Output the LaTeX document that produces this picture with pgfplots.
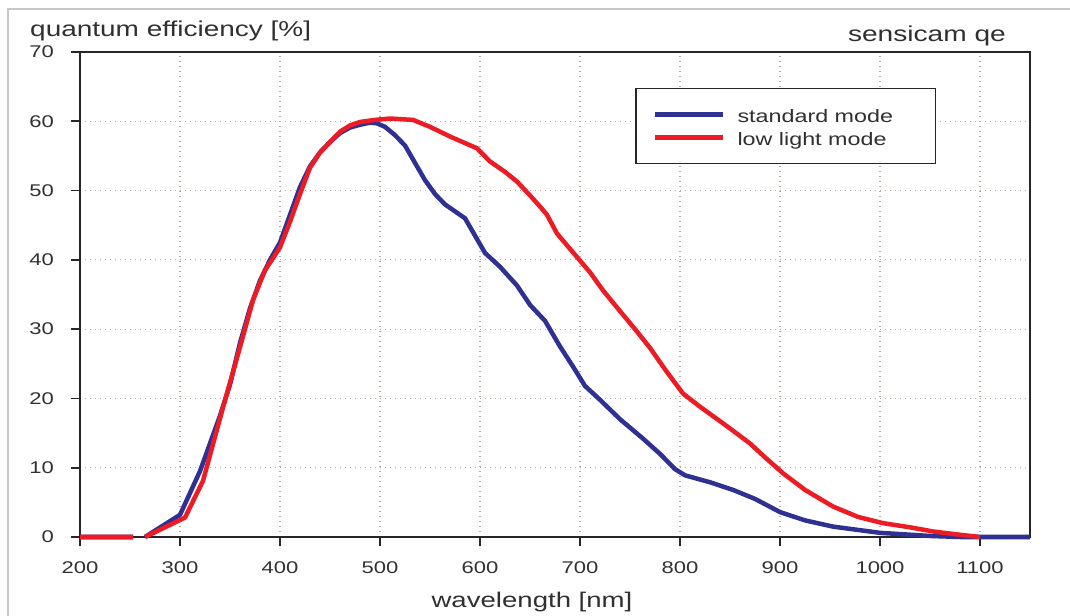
\documentclass[border=0pt]{standalone}
\usepackage{fontspec}
\setmainfont{Liberation Sans}[FakeStretch=1.3]
\usepackage{pgfplots}
\pgfplotsset{compat=1.18}

\definecolor{stdblue}{HTML}{2E3192}
\definecolor{lowred}{HTML}{ED1C24}
\definecolor{gridc}{HTML}{B8A8A0}
\definecolor{txt}{HTML}{303030}

\begin{document}
\begin{tikzpicture}
\begin{axis}[
    scale only axis,
    width=950bp, height=485bp,
    at={(0,0)}, anchor=south west,
    xmin=200, xmax=1150,
    ymin=0, ymax=70,
    xtick={200,300,...,1100},
    ytick={0,10,...,70},
    axis line style={line width=1.6bp, black!85},
    tick style={line width=1.6bp, black!85},
    tick align=outside,
    xtick pos=bottom, ytick pos=left,
    major tick length=9bp,
    grid=major,
    major grid style={gridc, line width=1.1bp, dash pattern=on 1.4bp off 3.6bp},
    /pgf/number format/assume math mode=true,
    /pgf/number format/1000 sep={},
    xticklabel style={font=\fontsize{17}{20}\selectfont, text=txt, inner sep=0pt, anchor=base, yshift=-27bp},
    yticklabel style={font=\fontsize{17}{20}\selectfont, text=txt, inner sep=0pt, anchor=east, xshift=-17bp},
    clip=false,
    unbounded coords=jump,
    legend image code/.code={\draw[#1] (0bp,0bp) -- (68bp,0bp);},
    legend style={at={(0.5845,0.926)}, anchor=north west, draw=black!85, line width=1.5bp,
        inner xsep=17bp, inner ysep=14bp, row sep=-1bp, column sep=12bp,
        font=\fontsize{18}{21}\selectfont, text=txt,
        nodes={inner sep=0pt, text height=20bp, text depth=4bp}},
    legend cell align=left,
]
\addplot[stdblue, line width=4.5bp, line join=round] coordinates {
(200,0) (253,0) (258,nan) (265,0) (300,3.2) (320,9.5) (340,17.5) (350,22) (360,28)
(370,33) (380,37) (390,40) (400,42.5) (410,46.5) (420,50.5) (430,53.5) (440,55.5)
(450,57) (460,58.3) (470,59.1) (480,59.5) (490,59.8) (497,59.7) (505,59.2) (515,58)
(525,56.5) (535,54) (545,51.5) (555,49.5) (565,48) (575,47) (585,46) (595,43.5)
(605,41) (620,39) (637,36.3) (650,33.5) (665,31.2) (680,27.5) (693,24.6) (705,21.8)
(720,19.8) (740,17) (763,14.2) (780,12) (795,9.8) (805,8.9) (830,7.9) (853,6.8)
(875,5.5) (900,3.6) (925,2.4) (953,1.5) (1000,0.6) (1050,0.15) (1080,0) (1150,0)
};
\addlegendentry{\makebox[181bp][l]{standard mode}}
\addplot[lowred, line width=4.5bp, line join=round] coordinates {
(200,0) (253,0) (258,nan) (265,0) (305,2.8) (323,8.1) (343,18.7) (360,27.4) (373,34.2)
(385,38.5) (400,41.8) (410,45.5) (420,49.5) (430,53.3) (440,55.5) (450,57) (460,58.5)
(470,59.4) (480,59.9) (495,60.2) (510,60.4) (533,60.2) (550,59.2) (570,57.8) (597,56.1)
(610,54.2) (625,52.7) (637,51.3) (650,49.3) (660,47.7) (667,46.5) (677,43.8) (697,40.4)
(710,38.2) (723,35.6) (740,32.6) (755,30) (770,27.3) (785,24.2) (803,20.7) (820,18.8)
(845,16.2) (870,13.5) (885,11.5) (903,9.2) (925,6.8) (953,4.4) (978,2.9) (1003,2.0)
(1030,1.4) (1053,0.8) (1075,0.4) (1100,0)
};
\addlegendentry{\makebox[181bp][l]{low light mode}}
\end{axis}
\path[use as bounding box] (-80bp,-79bp) rectangle (990bp,537bp);
\draw[black!22, line width=2bp] (-72bp,-79bp) -- (-72bp,528bp) -- (990bp,528bp);
\node[anchor=base west, text=txt, font=\fontsize{21.6}{25}\selectfont, inner sep=0pt] at (-50bp,500bp) {quantum efficiency [\%]};
\node[anchor=base east, text=txt, font=\fontsize{21.7}{25}\selectfont, inner sep=0pt] at (926bp,495bp) {sensicam qe};
\node[anchor=base, text=txt, font=\fontsize{21.3}{25}\selectfont, inner sep=0pt] at (452bp,-70bp) {wavelength [nm]};
\end{tikzpicture}
\end{document}
